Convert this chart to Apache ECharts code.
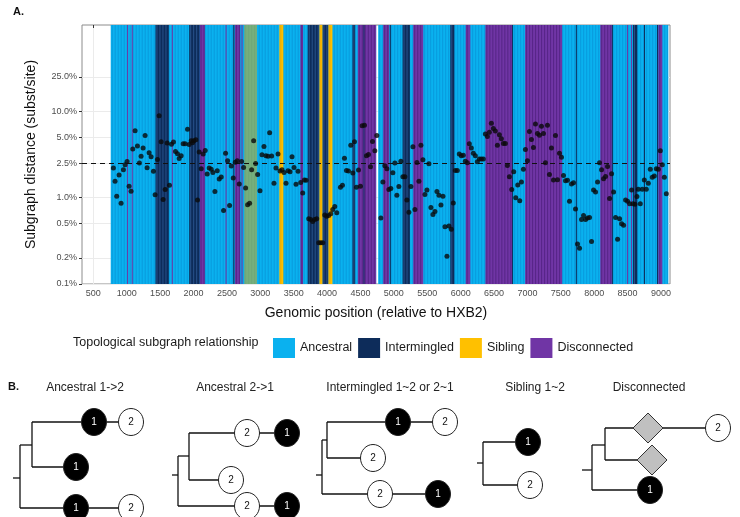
<!DOCTYPE html>
<html><head><meta charset="utf-8">
<script src="https://cdn.jsdelivr.net/npm/echarts@6/dist/echarts.min.js"></script>
<style>html,body{margin:0;padding:0;background:#fff}#c{width:740px;height:517px}</style>
</head><body><div id="c"></div>
<script>
// ---------- Panel A data ----------
const positions = [
800,825,850,885,915,950,975,1005,1035,1065,1090,1125,1160,1190,1215,1245,1275,1305,1335,1365,
1400,1425,1460,1485,1515,1545,1575,1605,1640,1670,1700,1730,1760,1785,1815,1845,1875,1910,1935,1965,
1985,2005,2035,2060,2085,2115,2145,2175,2205,2235,2265,2290,2320,2355,2385,2415,2450,2480,2510,2540,
2565,2595,2625,2655,2685,2720,2750,2780,2810,2840,2870,2900,2930,2960,2995,3025,3055,3085,3115,3140,
3170,3205,3235,3265,3295,3325,3355,3385,3415,3445,3475,3505,3535,3565,3605,3635,3660,3685,3725,3755,
3785,3815,3845,3875,3905,3935,3965,3995,4025,4055,4085,4115,4145,4200,4230,4260,4290,4320,4355,4385,
4410,4440,4470,4500,4525,4560,4590,4620,4650,4680,4715,4745,4805,4835,4865,4895,4925,4955,4985,5015,
5045,5075,5105,5135,5165,5195,5225,5255,5285,5315,5345,5375,5405,5435,5465,5495,5525,5555,5585,5615,
5645,5675,5705,5735,5765,5795,5825,5860,5890,5920,5950,5980,6010,6040,6070,6100,6130,6160,6190,6220,
6250,6280,6310,6340,6370,6400,6430,6460,6490,6520,6550,6580,6610,6640,6670,6700,6730,6765,6795,6825,
6855,6885,6910,6940,6970,7000,7030,7060,7090,7120,7150,7180,7210,7240,7270,7300,7330,7360,7390,7420,
7450,7480,7510,7540,7570,7600,7630,7660,7690,7720,7750,7780,7810,7840,7870,7900,7930,7960,7990,8020,
8050,8080,8110,8140,8170,8200,8230,8260,8290,8320,8350,8380,8410,8440,8470,8500,8530,8560,8580,8610,
8640,8660,8690,8720,8750,8780,8810,8840,8870,8900,8930,8960,8990,9020,9050,9080
];
// subgraph distance, in percent (subst/site x 100)
const distances = [
2.20,1.55,1.04,1.83,0.86,2.11,2.41,2.63,1.36,1.19,3.65,5.95,3.96,2.52,3.01,3.75,5.26,2.22,3.31,2.98,
2.02,1.08,2.77,8.87,4.43,0.95,1.24,4.29,1.39,4.17,4.40,3.43,3.23,2.85,3.06,4.21,4.21,6.22,4.14,4.56,
4.32,4.56,4.68,0.94,3.37,2.16,3.20,3.52,1.88,2.20,2.14,1.96,1.18,2.05,1.64,1.73,0.71,3.26,2.68,0.81,
2.32,1.69,2.58,2.68,1.44,2.63,2.24,1.29,0.83,0.86,2.11,4.56,2.49,1.85,1.20,3.14,3.92,3.06,3.01,5.64,
3.03,1.47,2.20,3.20,2.03,2.11,1.96,1.47,2.05,2.00,2.98,2.24,1.43,2.02,1.50,1.13,1.60,1.59,0.57,0.56,
0.53,0.56,0.57,0.30,0.30,0.30,0.63,0.61,0.62,0.65,0.73,0.79,0.67,1.32,1.39,2.87,2.07,2.03,4.06,1.93,
4.43,1.32,2.09,1.36,6.80,6.92,3.06,3.17,2.28,4.48,3.49,5.26,0.58,1.52,2.34,2.16,1.24,1.28,1.94,2.52,
1.07,1.35,2.65,1.75,1.75,0.94,0.68,1.35,3.88,0.73,2.56,1.55,4.06,2.75,1.09,1.23,2.47,0.77,0.64,0.69,
1.18,1.07,0.82,1.04,0.46,0.21,0.47,0.43,0.87,2.07,2.07,3.20,3.06,3.09,2.65,2.54,4.21,3.75,3.26,3.06,
2.61,2.80,2.80,2.80,5.45,5.12,5.74,7.30,6.34,5.90,4.06,5.34,4.81,4.25,4.25,2.36,1.75,1.24,2.00,1.00,
1.40,0.92,1.52,2.13,3.62,2.68,5.85,4.72,3.82,7.11,5.54,5.30,6.74,5.54,2.54,6.92,1.85,3.75,1.60,5.26,
1.61,3.26,2.93,1.81,1.57,1.59,0.91,1.44,1.49,0.74,0.29,0.26,0.56,0.62,0.56,0.58,0.59,0.31,1.23,1.16,
1.52,2.54,2.11,1.66,1.76,2.30,0.98,1.89,1.16,0.59,0.33,0.57,0.50,0.48,0.94,0.91,0.85,1.23,0.85,0.84,
1.03,1.25,0.85,1.25,1.60,1.25,1.47,2.13,1.72,1.78,2.16,2.14,3.49,2.41,1.72,1.11
];
const xTicks = [500,1000,1500,2000,2500,3000,3500,4000,4500,5000,5500,6000,6500,7000,7500,8000,8500,9000];
const yTicks = [0.1,0.2,0.5,1.0,2.5,5.0,10.0,25.0]; // percent
const thresholdPct = 2.5;

// genomic windows by topological relationship [start, end]
const ancestralRuns = [[760,4735],[4765,9110]];
const intermingledRuns = [[1430,1630],[1935,2090],[2595,2612],[3710,3885],[3930,4020],[4380,4420],[4545,4560],
  [4940,4955],[5130,5240],[5845,5905],[6770,6785],[7725,7740],[8265,8280],[8580,8645],[8745,8755],[8940,8955]];
const siblingRuns = [[3285,3345],[3885,3930],[4020,4080]];
const disconnectedRuns = [[1005,1020],[1075,1090],[1675,1690],[2090,2170],[2480,2495],[2620,2700],[2720,2735],
  [3600,3640],[4460,4735],[4840,4930],[5290,5440],[6075,6145],[6370,6770],[6965,7520],[8090,8265],[8490,8500],
  [8550,8560],[8960,9020]];
const siblingOverAncestralRuns = [[2760,2950]];
const categories = ['Ancestral','Intermingled','Sibling','Disconnected'];

// ---------- Panel B schematic ----------
const treeTitles = ['Ancestral 1->2','Ancestral 2->1','Intermingled 1~2 or 2~1','Sibling 1~2','Disconnected'];
const treeTitleX = [85,235,390,535,649];
// edges [x1,y1,x2,y2] in panel-B units
const treeEdges = [
 [13,98,20,98],[20,65,20,128],[20,65,32,65],[32,42,32,87],[32,42,131,42],[32,87,76,87],[20,128,131,128],
 [172,95,178,95],[178,76,178,126],[178,76,189,76],[189,53,189,100],[189,53,287,53],[189,100,231,100],[178,126,287,126],
 [316,95,322,95],[322,60,322,114],[322,60,327,60],[327,42,327,78],[327,42,445,42],[327,78,373,78],[322,114,438,114],
 [477,83,483,83],[483,62,483,105],[483,62,528,62],[483,105,530,105],
 [582,90,592,90],[592,65,592,110],[592,65,605,65],[605,48,605,80],[605,48,718,48],[605,80,652,80],[592,110,650,110]
];
// nodes [x, y, kind(0 black,1 white,2 diamond), label]
const treeNodes = [
 [94,42,0,1],[131,42,1,2],[76,87,0,1],[76,128,0,1],[131,128,1,2],
 [247,53,1,2],[287,53,0,1],[231,100,1,2],[247,126,1,2],[287,126,0,1],
 [398,42,0,1],[445,42,1,2],[373,78,1,2],[380,114,1,2],[438,114,0,1],
 [528,62,0,1],[530,105,1,2],
 [648,48,2,0],[718,48,1,2],[652,80,2,0],[650,110,0,1]
];

const FONT = 'Liberation Sans, Arial, Helvetica, sans-serif';
const colors = {Ancestral:'#0ab1ef', Intermingled:'#0d2c5a', Sibling:'#ffc000', Disconnected:'#7035a5'};
const stripes = {Ancestral:'rgba(0,50,140,0.22)', Intermingled:'rgba(90,150,230,0.45)', Sibling:'rgba(160,90,0,0.3)', Disconnected:'rgba(30,0,70,0.4)'};

function bandSeries(name, runs, color, stripe, opacity) {
  return {
    type:'custom', name: name, data: runs, xAxisIndex:0, yAxisIndex:0, silent:true, clip:true,
    itemStyle:{color: color}, encode:{x:[0,1]},
    renderItem: function(params, api){
      const cs = params.coordSys;
      const x0 = api.coord([api.value(0), -3])[0];
      const x1 = api.coord([api.value(1), -3])[0];
      const ch = [{type:'rect', shape:{x:x0, y:cs.y, width:Math.max(x1-x0,1), height:cs.height}, style:{fill:color, opacity:opacity}}];
      for (let x = x0 + 1.5; x < x1 - 0.5; x += 3) {
        ch.push({type:'line', shape:{x1:x, y1:cs.y, x2:x, y2:cs.y+cs.height}, style:{stroke:stripe, lineWidth:0.8}});
      }
      return {type:'group', children: ch};
    }
  };
}

const scatterData = positions.map((p,i)=>[p, Math.log10(distances[i]/100)]);

const graphics = [
  {type:'text', left:13, top:6, style:{text:'A.', font:'bold 11px '+FONT, fill:'#111'}},
  {type:'text', left:8, top:381, style:{text:'B.', font:'bold 11px '+FONT, fill:'#111'}},
  {type:'text', left:73, top:336, style:{text:'Topological subgraph relationship', font:'12.5px '+FONT, fill:'#1a1a1a'}}
];
treeTitles.forEach((t,i)=>{
  graphics.push({type:'text', x:treeTitleX[i], y:382, style:{text:t, font:'12px '+FONT, fill:'#222', textAlign:'center'}});
});

const option = {
  animation:false,
  backgroundColor:'#fff',
  textStyle:{fontFamily:FONT},
  grid:[
    {left:82, right:70, top:25, bottom:233, show:true, borderColor:'#8c8c8c', borderWidth:1, backgroundColor:'#fff'},
    {left:0, right:0, top:380, bottom:0}
  ],
  xAxis:[
    {type:'value', min:330, max:9135, gridIndex:0,
     name:'Genomic position (relative to HXB2)', nameLocation:'middle', nameGap:22,
     nameTextStyle:{fontSize:14, color:'#111', fontFamily:FONT},
     axisLine:{show:false},
     axisTick:{show:true, length:3, customValues:xTicks, lineStyle:{color:'#333'}},
     axisLabel:{customValues:xTicks, fontSize:9, color:'#4d4d4d', margin:5, fontFamily:FONT,
       formatter:function(v){ return String(Math.round(v)); }},
     splitLine:{show:true, lineStyle:{color:'#ebebeb'}}},
    {type:'value', min:0, max:740, gridIndex:1, show:false}
  ],
  yAxis:[
    {type:'value', min:-3, max:0, gridIndex:0,
     name:'Subgraph distance (subst/site)', nameLocation:'middle', nameGap:44, nameRotate:90,
     nameTextStyle:{fontSize:14, color:'#111', fontFamily:FONT},
     axisLine:{show:false},
     axisTick:{show:true, length:3, customValues:yTicks.map(v=>Math.log10(v/100)), lineStyle:{color:'#333'}},
     axisLabel:{customValues:yTicks.map(v=>Math.log10(v/100)), fontSize:9, color:'#4d4d4d', margin:5, fontFamily:FONT,
       formatter:function(v){ return (Math.pow(10,v)*100).toFixed(1)+'%'; }},
     splitLine:{show:true, lineStyle:{color:'#ebebeb'}}},
    {type:'value', min:0, max:137, inverse:true, gridIndex:1, show:false}
  ],
  legend:{
    data:categories, left:268, top:333, icon:'rect', itemWidth:22, itemHeight:20, itemGap:6,
    textStyle:{fontSize:12.5, color:'#1a1a1a', fontFamily:FONT}, selectedMode:false
  },
  graphic: graphics,
  series:[
    bandSeries('Ancestral', ancestralRuns, colors.Ancestral, stripes.Ancestral, 1),
    bandSeries('SiblingOverlap', siblingOverAncestralRuns, colors.Sibling, 'rgba(80,80,60,0.25)', 0.45),
    bandSeries('Disconnected', disconnectedRuns, colors.Disconnected, stripes.Disconnected, 1),
    bandSeries('Intermingled', intermingledRuns, colors.Intermingled, stripes.Intermingled, 1),
    bandSeries('Sibling', siblingRuns, colors.Sibling, stripes.Sibling, 1),
    {type:'scatter', name:'distance', data:scatterData, xAxisIndex:0, yAxisIndex:0, symbolSize:5, z:10,
     itemStyle:{color:'#0a0a0a'}, silent:true,
     markLine:{silent:true, symbol:['none','none'], label:{show:false},
       lineStyle:{color:'#111', type:[5,4], width:1.1},
       data:[{yAxis:Math.log10(thresholdPct/100)}]}},
    {type:'custom', name:'treeEdges', data:treeEdges, xAxisIndex:1, yAxisIndex:1, silent:true, encode:{x:[0,2], y:[1,3]},
     renderItem:function(params, api){
       const a = api.coord([api.value(0), api.value(1)]);
       const b = api.coord([api.value(2), api.value(3)]);
       return {type:'line', shape:{x1:a[0], y1:a[1], x2:b[0], y2:b[1]}, style:{stroke:'#111', lineWidth:1.3}};
     }},
    {type:'custom', name:'treeNodes', data:treeNodes, xAxisIndex:1, yAxisIndex:1, silent:true, z:5, encode:{x:0, y:1},
     renderItem:function(params, api){
       const c = api.coord([api.value(0), api.value(1)]);
       const kind = api.value(2), lab = api.value(3);
       if (kind === 2) {
         return {type:'polygon', shape:{points:[[c[0],c[1]-15],[c[0]+15,c[1]],[c[0],c[1]+15],[c[0]-15,c[1]]]},
                 style:{fill:'#c0c0c0', stroke:'#333', lineWidth:1}};
       }
       const black = kind === 0;
       return {type:'group', children:[
         {type:'ellipse', shape:{cx:c[0], cy:c[1], rx:12.5, ry:13.5}, style:{fill: black ? '#000' : '#fff', stroke:'#222', lineWidth:1}},
         {type:'text', x:c[0], y:c[1], style:{text:String(lab), fill: black ? '#fff' : '#111', font:'10px '+FONT, textAlign:'center', textVerticalAlign:'middle'}}
       ]};
     }}
  ]
};
echarts.init(document.getElementById('c')).setOption(option);
</script>
</body></html>
